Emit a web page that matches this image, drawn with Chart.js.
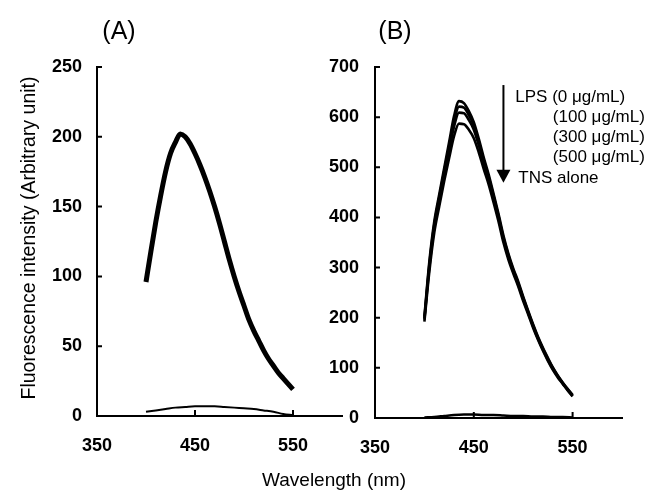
<!DOCTYPE html>
<html>
<head>
<meta charset="utf-8">
<script src="https://cdn.jsdelivr.net/npm/chart.js@4.4.0/dist/chart.umd.min.js"></script>
<style>
  body { margin: 0; background: #fff; }
  #wrap { position: relative; width: 661px; height: 498px; }
  canvas { position: absolute; left: 0; top: 0; }
</style>
</head>
<body>
<div id="wrap">
  <canvas id="chartA" width="661" height="498"></canvas>
  <canvas id="chartB" width="661" height="498"></canvas>
</div>
<script>
// wavelengths (nm)
const wl5 = [400,405,410,415,420,425,430,435,440,445,450,455,460,465,470,475,480,485,490,495,500,505,510,515,520,525,530,535,540,545,550];
const wl10 = [400,410,420,430,440,450,460,470,480,490,500,510,520,530,540,550];

// panel A
const panelA = [96,118,139,158,175,188,196,202,200,195,188,180,171,161,150,138,125,112,100,89,79,69,61,54,47,41,36,31,27,23,19];
const panelALow = [3,4,5,6,6.5,7,7,7,6.5,6,5.5,5,4,3,1.5,0.5];

// panel B
const lps0   = [202,312,392,446,498,550,602,632,628,612,590,557,520,486,447,407,364,328,298,272,242,214,187,162,140,120,101,85,71,58,46];
const lps100 = [199,306,386,440,492,542,592,621,619,604,583,551,515,481,443,403,360,325,295,269,240,212,185,160,138,118,100,84,70,57,45];
const lps300 = [196,300,380,433,484,533,581,609,608,594,575,544,509,476,438,399,356,321,292,266,237,210,183,158,136,116,98,83,69,56,44];
const lps500 = [192,292,370,422,472,518,562,587,586,575,558,530,497,466,430,392,350,316,288,262,233,207,180,156,134,114,96,81,68,55,43];
const tnsAlone = [1,2,4,6,7,7,6,6,5,4,4,3,3,2,2,1];

const xTicks = [350,450,550];
const yTicksA = [0,50,100,150,200,250];
const yTicksB = [0,100,200,300,400,500,600,700];
const legendLabels = ['LPS (0 \u03bcg/mL)','(100 \u03bcg/mL)','(300 \u03bcg/mL)','(500 \u03bcg/mL)','TNS alone'];

Chart.defaults.font.family = '"Liberation Sans", Arial, sans-serif';
Chart.defaults.color = '#000';

const pts = (xs, ys) => xs.map((x, i) => ({x: x, y: ys[i]}));

function line(data, width) {
  return {
    data: data,
    borderColor: '#000',
    borderWidth: width,
    pointRadius: 0,
    fill: false,
    cubicInterpolationMode: 'monotone'
  };
}

function makeScales(yMax, yTicks, yPad) {
  return {
    x: {
      type: 'linear', min: 350, max: 600,
      afterFit: s => { s.height = 60; },
      afterBuildTicks: s => { s.ticks = xTicks.map(v => ({value: v})); },
      grid: { display: false, drawTicks: false },
      border: { display: true, color: '#000', width: 2 },
      ticks: { font: { size: 18, weight: 'bold' }, padding: 19, maxRotation: 0 }
    },
    y: {
      type: 'linear', min: 0, max: yMax,
      afterFit: s => { s.width = 60; },
      afterBuildTicks: s => { s.ticks = yTicks.map(v => ({value: v})); },
      grid: { display: false, drawTicks: false },
      border: { display: true, color: '#000', width: 2 },
      ticks: { font: { size: 18, weight: 'bold' }, padding: yPad }
    }
  };
}

// inward tick marks on both axes
const tickMarks = {
  id: 'tickMarks',
  afterDraw(chart) {
    const ctx = chart.ctx, x = chart.scales.x, y = chart.scales.y;
    ctx.save();
    ctx.strokeStyle = '#000';
    ctx.lineWidth = 2;
    ctx.beginPath();
    y.ticks.forEach(t => {
      if (t.value === 0) return;
      const py = y.getPixelForValue(t.value);
      ctx.moveTo(x.left, py); ctx.lineTo(x.left + 5, py);
    });
    xTicks.slice(1).forEach(v => {
      const px = x.getPixelForValue(v);
      ctx.moveTo(px, y.bottom); ctx.lineTo(px, y.bottom - 6);
    });
    ctx.stroke();
    ctx.restore();
  }
};

const textA = {
  id: 'textA',
  afterDraw(chart) {
    const ctx = chart.ctx;
    ctx.save();
    ctx.fillStyle = '#000';
    ctx.textAlign = 'center';
    ctx.textBaseline = 'middle';
    ctx.font = '25px "Liberation Sans", Arial, sans-serif';
    ctx.fillText('(A)', 119, 32);
    ctx.font = '19px "Liberation Sans", Arial, sans-serif';
    ctx.fillText('Wavelength (nm)', 334, 481);
    ctx.translate(30, 238);
    ctx.rotate(-Math.PI / 2);
    ctx.font = '19.5px "Liberation Sans", Arial, sans-serif';
    ctx.fillText('Fluorescence intensity (Arbitrary unit)', 0, 0);
    ctx.restore();
  }
};

const textB = {
  id: 'textB',
  afterDraw(chart) {
    const ctx = chart.ctx, x = chart.scales.x, y = chart.scales.y;
    ctx.save();
    ctx.fillStyle = '#000';
    ctx.strokeStyle = '#000';
    ctx.textBaseline = 'middle';
    ctx.textAlign = 'center';
    ctx.font = '25px "Liberation Sans", Arial, sans-serif';
    ctx.fillText('(B)', 395, 32);
    // arrow
    const ax = x.getPixelForValue(480);
    const top = y.getPixelForValue(664), tip = y.getPixelForValue(469);
    ctx.lineWidth = 2;
    ctx.beginPath();
    ctx.moveTo(ax, top); ctx.lineTo(ax, tip - 10);
    ctx.stroke();
    ctx.beginPath();
    ctx.moveTo(ax - 7, tip - 13); ctx.lineTo(ax + 7, tip - 13); ctx.lineTo(ax, tip);
    ctx.closePath();
    ctx.fill();
    // labels
    ctx.textAlign = 'left';
    ctx.font = '17px "Liberation Sans", Arial, sans-serif';
    const lx = [492, 530, 530, 530, 495];
    const ly = [640, 600, 560, 519, 479];
    legendLabels.forEach((s, i) => {
      ctx.fillText(s, x.getPixelForValue(lx[i]), y.getPixelForValue(ly[i]));
    });
    ctx.restore();
  }
};

new Chart(document.getElementById('chartA'), {
  type: 'line',
  data: {
    datasets: [
      line(pts(wl5, panelA), 5),
      line(pts(wl10, panelALow), 2)
    ]
  },
  options: {
    responsive: false,
    animation: false,
    devicePixelRatio: 1,
    layout: { padding: { left: 37, right: 319, top: 67, bottom: 22 } },
    plugins: { legend: { display: false }, tooltip: { enabled: false } },
    scales: makeScales(250, yTicksA, 15)
  },
  plugins: [tickMarks, textA]
});

new Chart(document.getElementById('chartB'), {
  type: 'line',
  data: {
    datasets: [
      line(pts(wl5, lps0), 2.6),
      line(pts(wl5, lps100), 2.6),
      line(pts(wl5, lps300), 2.6),
      line(pts(wl5, lps500), 2.6),
      line(pts(wl10, tnsAlone), 2.5)
    ]
  },
  options: {
    responsive: false,
    animation: false,
    devicePixelRatio: 1,
    layout: { padding: { left: 315, right: 39, top: 67, bottom: 20 } },
    plugins: { legend: { display: false }, tooltip: { enabled: false } },
    scales: makeScales(700, yTicksB, 16)
  },
  plugins: [tickMarks, textB]
});
</script>
</body>
</html>
